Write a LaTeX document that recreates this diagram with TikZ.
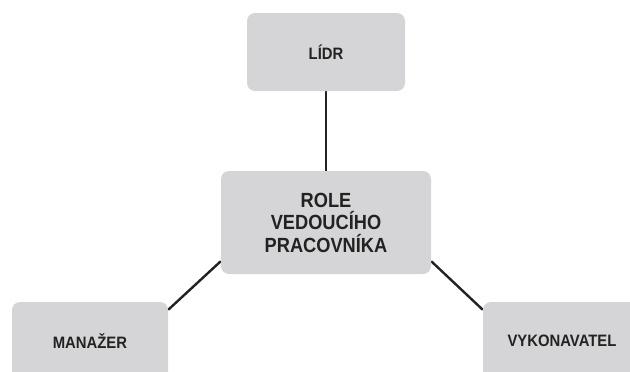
\documentclass[tikz,border=0pt]{standalone}
\usepackage{fontspec}
\setmainfont{Liberation Sans}
\usetikzlibrary{backgrounds}
\newfontfamily\labelfont{Liberation Sans}[FakeStretch=0.9]
\newfontfamily\rolefont{Liberation Sans}[FakeStretch=0.89]
\definecolor{boxgray}{HTML}{D5D5D7}
\definecolor{inkdark}{HTML}{222222}
\tikzset{
  rolebox/.style={fill=boxgray, rounded corners=8pt, align=center,
    font=\labelfont\fontsize{16.5}{19.5}\selectfont\bfseries, text=inkdark, inner sep=0pt},
  bigtext/.style={font=\rolefont\fontsize{20.5}{22.5}\selectfont\bfseries},
  link/.style={draw=inkdark, line width=2.4pt}
}
\begin{document}
\begin{tikzpicture}[x=1pt, y=-1pt]
  \useasboundingbox (0,0) rectangle (630,372);
  \clip (0,0) rectangle (630,372);
  \node[rolebox, minimum width=158pt, minimum height=78pt] (lidr) at (326,52) {LÍDR};
  \node[rolebox, bigtext, minimum width=210pt, minimum height=103pt] (role) at (326,222.5)
    {ROLE\\VEDOUCÍHO\\PRACOVNÍKA};
  \node[rolebox, minimum width=156pt, minimum height=78pt] (man) at (90,341) {MANAŽER};
  \node[rolebox, minimum width=158pt, minimum height=78pt] (vyk) at (562,341) {VYKONAVATEL};
  \begin{scope}[on background layer]
    \draw[link] (lidr.south) -- (role.north);
    \draw[link] ([yshift=13pt]role.south west) -- ([yshift=-8pt]man.north east);
    \draw[link] ([yshift=13pt]role.south east) -- ([yshift=-8pt]vyk.north west);
  \end{scope}
\end{tikzpicture}
\end{document}
